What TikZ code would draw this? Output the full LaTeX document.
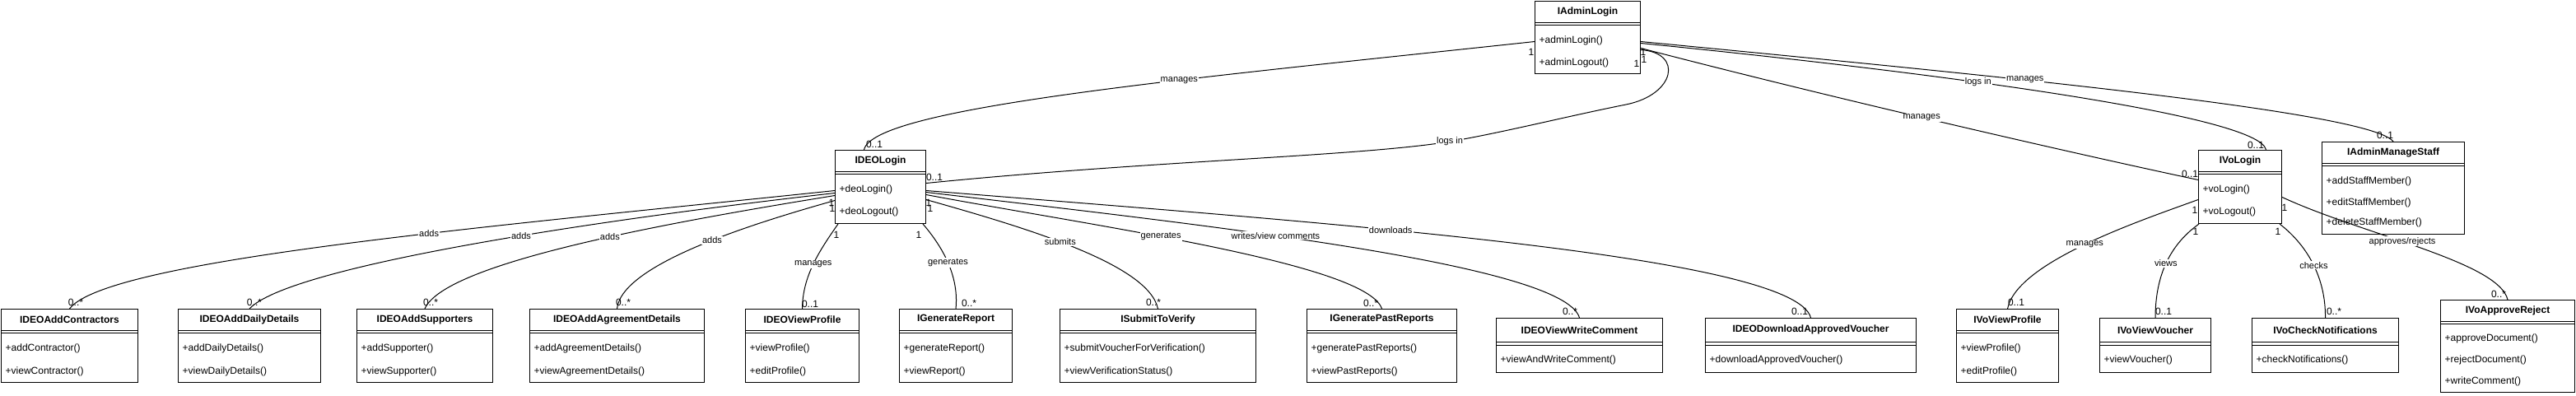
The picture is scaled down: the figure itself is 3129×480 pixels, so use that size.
\documentclass[tikz,border=0pt]{standalone}
\usepackage{fontspec}
\setmainfont{Liberation Sans}
\usetikzlibrary{calc}
\tikzset{
  clsbox/.style={draw, line width=1pt, fill=white, inner sep=0pt, anchor=north west},
  clstitle/.style={font=\fontsize{12}{14}\selectfont\bfseries, inner sep=0pt},
  meth/.style={font=\fontsize{12}{14}\selectfont, inner sep=0pt, anchor=west},
  conn/.style={line width=1pt},
  elabel/.style={font=\fontsize{11}{13}\selectfont, fill=white, inner sep=1pt},
  mult/.style={font=\fontsize{12}{14}\selectfont, inner sep=0pt},
}
% #1 name, #2 x, #3 y, #4 w, #5 h, #6 header height, #7 title
\newcommand\umlcls[7]{%
  \node[clsbox, minimum width=#4pt, minimum height=#5pt] (#1) at (#2,#3) {};
  \node[clstitle] (#1-title) at ($(#1.north)+(0,#6/2)$) {#7};
  \draw[line width=1pt] ($(#1.north west)+(0,#6)$) -- ($(#1.north east)+(0,#6)$);
  \draw[line width=1pt] ($(#1.north west)+(0,#6+3.5)$) -- ($(#1.north east)+(0,#6+3.5)$);
}
% #1 box, #2 index, #3 y offset, #4 text
\newcommand\umlmeth[4]{%
  \node[meth] (#1-m#2) at ($(#1.north west)+(5.5,#3)$) {#4};
}
\begin{document}
\begin{tikzpicture}[x=1pt,y=-1pt]
\useasboundingbox (0,0) rectangle (3129,480);
\fill[white] (0,0) rectangle (3129,480);

% ---------- top classes
\umlcls{AL}{1864}{1}{128}{88}{26}{IAdminLogin}
\umlmeth{AL}{1}{48}{+adminLogin()}
\umlmeth{AL}{2}{75}{+adminLogout()}

\umlcls{DL}{1014}{182}{110}{89}{26}{IDEOLogin}
\umlmeth{DL}{1}{48.5}{+deoLogin()}
\umlmeth{DL}{2}{75}{+deoLogout()}

\umlcls{VL}{2670}{182}{101}{89}{26}{IVoLogin}
\umlmeth{VL}{1}{48.5}{+voLogin()}
\umlmeth{VL}{2}{75}{+voLogout()}

\umlcls{AMS}{2820}{172}{173}{112}{26}{IAdminManageStaff}
\umlmeth{AMS}{1}{48}{+addStaffMember()}
\umlmeth{AMS}{2}{74}{+editStaffMember()}
\umlmeth{AMS}{3}{98.5}{+deleteStaffMember()}

% ---------- bottom classes
\umlcls{Contr}{1}{375}{166}{89}{26}{IDEOAddContractors}
\umlmeth{Contr}{1}{48}{+addContractor()}
\umlmeth{Contr}{2}{76}{+viewContractor()}

\umlcls{Daily}{216}{375}{173}{89}{26}{IDEOAddDailyDetails}
\umlmeth{Daily}{1}{48}{+addDailyDetails()}
\umlmeth{Daily}{2}{76}{+viewDailyDetails()}

\umlcls{Supp}{433}{375}{165}{89}{26}{IDEOAddSupporters}
\umlmeth{Supp}{1}{48}{+addSupporter()}
\umlmeth{Supp}{2}{76}{+viewSupporter()}

\umlcls{Agree}{643}{375}{212}{89}{26}{IDEOAddAgreementDetails}
\umlmeth{Agree}{1}{48}{+addAgreementDetails()}
\umlmeth{Agree}{2}{76}{+viewAgreementDetails()}

\umlcls{DVP}{905}{375}{138}{89}{26}{IDEOViewProfile}
\umlmeth{DVP}{1}{48}{+viewProfile()}
\umlmeth{DVP}{2}{76}{+editProfile()}

\umlcls{GR}{1092}{375}{137}{89}{26}{IGenerateReport}
\umlmeth{GR}{1}{48}{+generateReport()}
\umlmeth{GR}{2}{76}{+viewReport()}

\umlcls{SV}{1287}{375}{238}{89}{26}{ISubmitToVerify}
\umlmeth{SV}{1}{48}{+submitVoucherForVerification()}
\umlmeth{SV}{2}{76}{+viewVerificationStatus()}

\umlcls{GPR}{1587}{375}{182}{89}{26}{IGeneratePastReports}
\umlmeth{GPR}{1}{48}{+generatePastReports()}
\umlmeth{GPR}{2}{76}{+viewPastReports()}

\umlcls{VWC}{1817}{386}{202}{66}{29.5}{IDEOViewWriteComment}
\umlmeth{VWC}{1}{51}{+viewAndWriteComment()}

\umlcls{DAV}{2071}{386}{256}{66}{29.5}{IDEODownloadApprovedVoucher}
\umlmeth{DAV}{1}{51}{+downloadApprovedVoucher()}

\umlcls{VVP}{2376}{375}{124}{89}{26}{IVoViewProfile}
\umlmeth{VVP}{1}{48}{+viewProfile()}
\umlmeth{VVP}{2}{76}{+editProfile()}

\umlcls{VVV}{2550}{386}{135}{66}{29.5}{IVoViewVoucher}
\umlmeth{VVV}{1}{51}{+viewVoucher()}

\umlcls{VCN}{2735}{386}{178}{66}{29.5}{IVoCheckNotifications}
\umlmeth{VCN}{1}{51}{+checkNotifications()}

\umlcls{VAR}{2964}{364}{163}{112}{26}{IVoApproveReject}
\umlmeth{VAR}{1}{47}{+approveDocument()}
\umlmeth{VAR}{2}{73.5}{+rejectDocument()}
\umlmeth{VAR}{3}{99}{+writeComment()}

% ---------- connectors
% admin
\draw[conn] ([yshift=-5pt]AL.west) .. controls (1450,95) and (1060,130) .. ([xshift=-20pt]DL.north) coordinate[pos=.37] (lE1);
\draw[conn] ([yshift=-15pt]AL.east) .. controls (2045,64) and (2035,115) .. (1975,127)
   .. controls (1900,142) and (1830,160) .. (1761,172) coordinate (lE2)
   .. controls (1650,190) and (1400,195) .. ([yshift=4.5pt]DL.east);
\draw[conn] ([yshift=-13pt]AL.east) .. controls (2190,110) and (2480,178) .. ([yshift=8.5pt]VL.west) coordinate[pos=.5] (lE3);
\draw[conn] ([yshift=-7pt]AL.east) .. controls (2350,88) and (2745,140) .. ([xshift=31.5pt]VL.north) coordinate[pos=.39] (lE4);
\draw[conn] ([yshift=-5pt]AL.east) .. controls (2400,90) and (2880,135) .. (AMS.north) coordinate[pos=.38] (lE5);

% DEO left
\draw[conn] ([yshift=-4.5pt]DL.west) .. controls (600,275) and (130,315) .. (Contr.north) coordinate[pos=.4] (lA1);
\draw[conn] ([yshift=-7.5pt]DL.west) .. controls (700,270) and (350,325) .. (Daily.north) coordinate[pos=.41] (lA2);
\draw[conn] ([yshift=-10.5pt]DL.west) .. controls (800,272) and (540,320) .. (Supp.north) coordinate[pos=.42] (lA3);
\draw[conn] ([yshift=-16.5pt]DL.west) .. controls (920,270) and (755,320) .. (Agree.north) coordinate[pos=.45] (lA4);
\draw[conn] ([xshift=4pt]DL.south west) .. controls (995,305) and (975,335) .. (DVP.north) coordinate[pos=.5] (lMP);
\draw[conn] ([xshift=-4pt]DL.south east) .. controls (1145,300) and (1165,335) .. (GR.north) coordinate[pos=.5] (lGR);
% DEO right
\draw[conn] ([yshift=-15.5pt]DL.east) .. controls (1240,275) and (1395,320) .. (SV.north) coordinate[pos=.45] (lSV);
\draw[conn] ([yshift=-9.5pt]DL.east) .. controls (1330,275) and (1660,320) .. (GPR.north) coordinate[pos=.41] (lGP);
\draw[conn] ([yshift=-6.5pt]DL.east) .. controls (1450,272) and (1900,320) .. (VWC.north) coordinate[pos=.41] (lWC);
\draw[conn] ([yshift=-4.5pt]DL.east) .. controls (1600,270) and (2180,310) .. (DAV.north) coordinate[pos=.39] (lDA);

% VO
\draw[conn] ([yshift=-15.5pt]VL.west) .. controls (2600,268) and (2450,318) .. (VVP.north) coordinate[pos=.5] (lVM);
\draw[conn] ([xshift=1pt]VL.south west) .. controls (2632,300) and (2618,340) .. (VVV.north) coordinate[pos=.48] (lVV);
\draw[conn] ([xshift=-3pt]VL.south east) .. controls (2805,300) and (2825,340) .. (VCN.north) coordinate[pos=.5] (lVC);
\draw[conn] ([yshift=-12.5pt]VL.east) .. controls (2870,285) and (3035,318) .. (VAR.north) coordinate[pos=.43] (lVA);

% ---------- connector labels
\node[elabel] (tE1) at (lE1) {manages};
\node[elabel] (tE2) at (lE2) {logs in};
\node[elabel] (tE3) at (lE3) {manages};
\node[elabel] (tE4) at (lE4) {logs in};
\node[elabel] (tE5) at (lE5) {manages};
\node[elabel] (tA1) at (lA1) {adds};
\node[elabel] (tA2) at (lA2) {adds};
\node[elabel] (tA3) at (lA3) {adds};
\node[elabel] (tA4) at (lA4) {adds};
\node[elabel] (tMP) at (lMP) {manages};
\node[elabel] (tGR) at (lGR) {generates};
\node[elabel] (tSV) at (lSV) {submits};
\node[elabel] (tGP) at (lGP) {generates};
\node[elabel] (tWC) at (lWC) {writes/view comments};
\node[elabel] (tDA) at (lDA) {downloads};
\node[elabel] (tVM) at (lVM) {manages};
\node[elabel] (tVV) at (lVV) {views};
\node[elabel] (tVC) at (lVC) {checks};
\node[elabel] (tVA) at (lVA) {approves/rejects};

% ---------- multiplicities
\node[mult] (m1) at (1860,63) {1};
\node[mult] (m2) at (1988,77) {1};
\node[mult] (m3) at (1997,72) {1};
\node[mult] (m4) at (1996,63) {1};
\node[mult] (m5) at (1062,175) {0..1};
\node[mult] (m6) at (1135,215) {0..1};
\node[mult] (m7) at (2660,211) {0..1};
\node[mult] (m8) at (2740,176) {0..1};
\node[mult] (m9) at (2897,164) {0..1};
\node[mult] (m10) at (1010,246) {1};
\node[mult] (m11) at (1011,253) {1};
\node[mult] (m12) at (1128,246) {1};
\node[mult] (m13) at (1130,253) {1};
\node[mult] (m14) at (1016,285) {1};
\node[mult] (m15) at (1116,285) {1};
\node[mult] (m16) at (92,367) {0..*};
\node[mult] (m17) at (309,367) {0..*};
\node[mult] (m18) at (523,367) {0..*};
\node[mult] (m19) at (757,367) {0..*};
\node[mult] (m20) at (984,369) {0..1};
\node[mult] (m21) at (1177,368) {0..*};
\node[mult] (m22) at (1401,367) {0..*};
\node[mult] (m23) at (1665,368) {0..*};
\node[mult] (m24) at (1907,378) {0..*};
\node[mult] (m25) at (2186,378) {0..1};
\node[mult] (m26) at (2666,255) {1};
\node[mult] (m27) at (2667,281) {1};
\node[mult] (m28) at (2767,281) {1};
\node[mult] (m29) at (2775,252) {1};
\node[mult] (m30) at (2449,367) {0..1};
\node[mult] (m31) at (2628,378) {0..1};
\node[mult] (m32) at (2835,378) {0..*};
\node[mult] (m33) at (3035,357) {0..*};
\end{tikzpicture}
\end{document}
